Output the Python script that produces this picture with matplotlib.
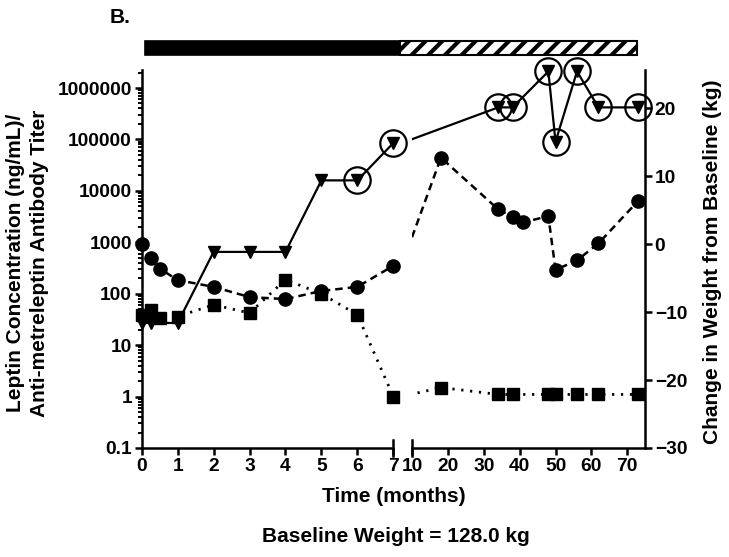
import numpy as np
import matplotlib
matplotlib.use("Agg")
import matplotlib.pyplot as plt
from matplotlib.patches import Rectangle

plt.rcParams['font.family'] = ['Liberation Sans', 'DejaVu Sans']
plt.rcParams['font.weight'] = 'bold'
plt.rcParams['hatch.linewidth'] = 3.0

# Data

# weight change (kg), right axis
wt_months = [0, 0.25, 0.5, 1, 2, 3, 4, 5, 6, 7, 18, 34, 38, 41, 48, 50, 56, 62, 73]
wt_change = [0, -2.1, -3.6, -5.3, -6.3, -7.8, -8.1, -6.9, -6.3, -3.2,
             12.7, 5.1, 4.0, 3.2, 4.1, -3.8, -2.4, 0.1, 6.3]

# leptin concentration (ng/mL), left axis
lep_months = [0, 0.25, 0.5, 1, 2, 3, 4, 5, 6, 7, 18, 34, 38, 48, 50, 56, 62, 73]
leptin = [38, 48, 34, 36, 61, 42, 188, 100, 39, 1.0, 1.5,
          1.1, 1.1, 1.1, 1.1, 1.1, 1.1, 1.1]

# anti-metreleptin antibody titer, left axis
tit_months = [0, 0.25, 1, 2, 3, 4, 5, 6, 7, 34, 38, 48, 50, 56, 62, 73]
titer = [27, 27, 27, 650, 650, 650, 16000, 16000, 85000,
         420000, 420000, 2100000, 90000, 2100000, 420000, 420000]

# titers marked with an open circle
circ_months = [6, 7, 34, 38, 48, 50, 56, 62, 73]
circ_titer = [16000, 85000, 420000, 420000, 2100000, 90000, 2100000, 420000, 420000]

left_ticks = [0, 1, 2, 3, 4, 5, 6, 7]
right_ticks = [10, 20, 30, 40, 50, 60, 70]
wt_ticks = [-30, -20, -10, 0, 10, 20]

LW = 1.8
FS = 13.8   # tick labels
LFS = 15    # axis labels / notes

fig = plt.figure(figsize=(7.29, 5.57), dpi=100)
ax1 = fig.add_axes([0.1944, 0.1957, 0.3451, 0.6786])
ax2 = fig.add_axes([0.5656, 0.1957, 0.3192, 0.6786])
ax1w = ax1.twinx()
ax2w = ax2.twinx()

segs = [(ax1, ax1w, 0, 7), (ax2, ax2w, 10, 75)]

for ax, axw, lo, hi in segs:
    ax.set_xlim(lo, hi)
    ax.set_yscale('log')
    ax.set_ylim(0.1, 10 ** 6.35)
    axw.set_ylim(-30, 25.6)

    def inside(xs, ys):
        pts = [(x, y) for x, y in zip(xs, ys) if lo <= x <= hi]
        return [p[0] for p in pts], [p[1] for p in pts]

    # lines (clipped at the break)
    ax.plot(tit_months, titer, color='black', lw=1.6, zorder=2)
    ax.plot(lep_months, leptin, color='black', lw=2.0,
            linestyle=(0, (0.8, 2.4)), zorder=2)
    axw.plot(wt_months, wt_change, color='black', lw=LW,
             linestyle=(0, (3, 2)), zorder=2)

    # markers
    x, y = inside(tit_months, titer)
    ax.plot(x, y, 'v', color='black', ms=8.5, ls='none', clip_on=False, zorder=3)
    x, y = inside(circ_months, circ_titer)
    ax.plot(x, y, 'o', mfc='none', mec='black', mew=1.6, ms=19,
            ls='none', clip_on=False, zorder=3)
    x, y = inside(lep_months, leptin)
    ax.plot(x, y, 's', color='black', ms=9, ls='none', clip_on=False, zorder=3)
    x, y = inside(wt_months, wt_change)
    axw.plot(x, y, 'o', color='black', ms=9.5, ls='none', clip_on=False, zorder=3)

    for a in (ax, axw):
        a.spines['top'].set_visible(False)
        for s in a.spines.values():
            s.set_linewidth(LW)
    axw.spines['left'].set_visible(False)
    axw.spines['bottom'].set_visible(False)
    ax.spines['right'].set_visible(False)
    ax.tick_params(axis='both', which='major', length=5, width=LW,
                   labelsize=FS, pad=2)
    ax.tick_params(axis='y', which='minor', length=3, width=1.4)

# left segment
ax1.set_xticks(left_ticks)
ax1.set_yticks([10.0 ** k for k in range(-1, 7)])
ax1.set_yticklabels(['0.1', '1', '10', '100', '1000', '10000', '100000', '1000000'])
ax1w.spines['right'].set_visible(False)
ax1w.set_yticks([])
ax1.plot([1, 1], [-0.022, 0.022], transform=ax1.transAxes, color='black',
         lw=LW, clip_on=False)

# right segment
ax2.set_xticks(right_ticks)
ax2.spines['left'].set_visible(False)
ax2.tick_params(axis='y', which='both', left=False, labelleft=False)
ax2w.set_yticks(wt_ticks)
ax2w.tick_params(axis='y', length=5, width=LW, labelsize=FS, pad=2)
ax2.plot([0, 0], [-0.022, 0.022], transform=ax2.transAxes, color='black',
         lw=LW, clip_on=False)

# treatment bars on top
fig.add_artist(Rectangle((0.199, 0.901), 0.350, 0.026, transform=fig.transFigure,
                         facecolor='black', edgecolor='black', lw=1.2))
fig.add_artist(Rectangle((0.549, 0.901), 0.325, 0.026, transform=fig.transFigure,
                         facecolor='white', edgecolor='black', hatch='//', lw=1.5))

# texts
fig.text(0.165, 0.969, 'B.', fontsize=LFS, fontweight='bold', ha='center', va='center')
fig.text(0.540, 0.108, 'Time (months)', fontsize=LFS, fontweight='bold',
         ha='center', va='center')
fig.text(0.543, 0.036, 'Baseline Weight = 128.0 kg', fontsize=LFS, fontweight='bold',
         ha='center', va='center')
fig.text(0.038, 0.528, 'Leptin Concentration (ng/mL)/\nAnti-metreleptin Antibody Titer',
         fontsize=LFS, fontweight='bold', rotation=90, ha='center', va='center',
         multialignment='center', linespacing=1.3)
fig.text(0.977, 0.53, 'Change in Weight from Baseline (kg)', fontsize=LFS,
         fontweight='bold', rotation=90, ha='center', va='center')

fig.savefig('out.png', dpi=100)
